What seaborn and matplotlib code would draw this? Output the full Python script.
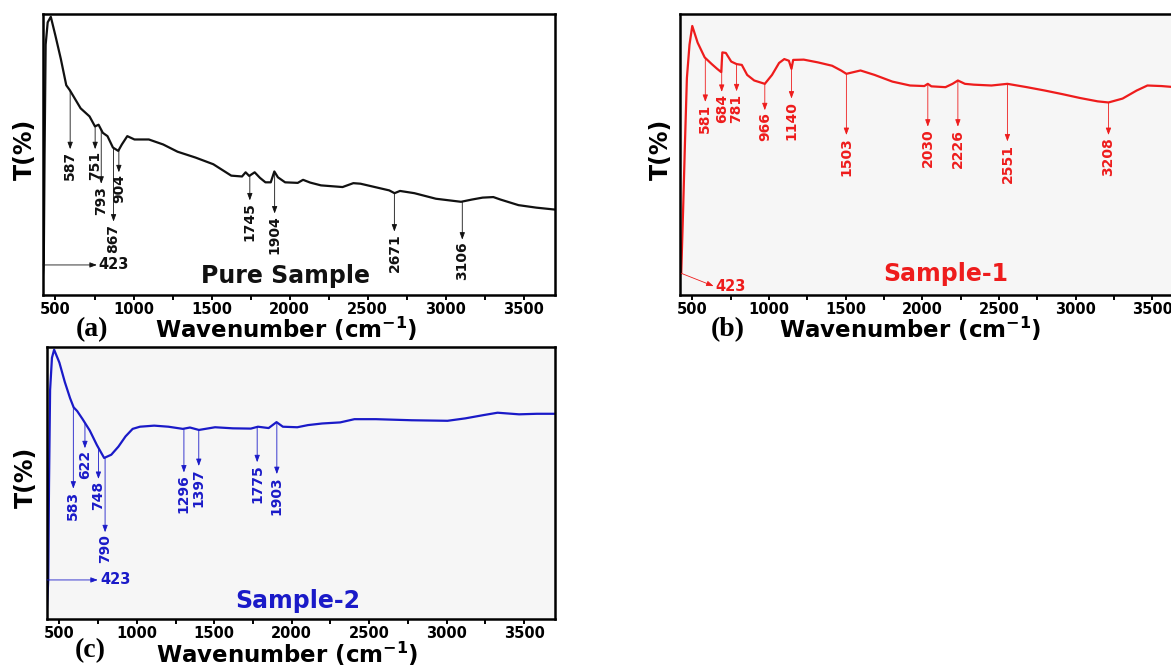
import numpy as np
import pandas as pd
import matplotlib
matplotlib.use("Agg")
import matplotlib.pyplot as plt
import seaborn as sns
from matplotlib.ticker import MultipleLocator

# ---------------- data ----------------
# (a) Pure Sample
wn_a = [415, 425, 430, 437, 450, 470, 500, 534, 569, 592,
        661, 718, 753, 776, 803, 833, 868, 902, 925, 960,
        1006, 1098, 1190, 1282, 1397, 1511, 1626, 1695, 1718, 1741,
        1776, 1810, 1845, 1879, 1902, 1925, 1971, 2052, 2086, 2132,
        2201, 2339, 2408, 2454, 2546, 2638, 2672, 2707, 2799, 2937,
        3098, 3167, 3236, 3305, 3351, 3466, 3580, 3700]
t_a = [3, 12, 50, 90, 98, 100, 93.1, 84.9, 75.4, 73.6,
       67.1, 64.2, 60.6, 61.2, 58.3, 57.1, 53.0, 51.8, 54.1, 57.1,
       55.9, 55.9, 54.1, 51.5, 49.4, 47.0, 42.9, 42.6, 44.1, 42.8,
       44.1, 42.1, 40.5, 40.5, 44.4, 42.3, 40.5, 40.3, 41.4, 40.4,
       39.4, 38.8, 40.2, 40.0, 38.8, 37.6, 36.6, 37.4, 36.6, 34.6,
       33.5, 34.3, 35.0, 35.2, 34.3, 32.3, 31.4, 30.7]
peaks_a = [587, 751, 793, 867, 904, 1745, 1904, 2671, 3106]

# (b) Sample-1
wn_b = [428, 440, 452, 465, 482, 500, 535, 581, 627, 662,
        689, 696, 719, 754, 789, 823, 858, 904, 973, 1020,
        1066, 1100, 1130, 1147, 1158, 1227, 1320, 1412, 1470, 1505,
        1597, 1689, 1805, 1920, 2013, 2036, 2059, 2151, 2197, 2232,
        2278, 2336, 2451, 2555, 2682, 2798, 2913, 3029, 3144, 3214,
        3306, 3398, 3468, 3560, 3648, 3700]
t_b = [7.8, 30, 54, 78, 90, 96.7, 90.7, 85.4, 83.0, 81.3,
       80.1, 87.2, 87.0, 83.9, 83.0, 82.7, 79.1, 77.1, 75.9, 79.1,
       83.4, 84.8, 84.2, 81.3, 84.5, 84.6, 83.6, 82.4, 80.7, 79.5,
       80.7, 79.1, 76.7, 75.3, 75.1, 75.9, 75.0, 74.7, 75.9, 77.1,
       75.9, 75.6, 75.3, 75.9, 74.7, 73.5, 72.2, 70.8, 69.6, 69.2,
       70.6, 73.5, 75.3, 75.1, 74.7, 74.6]
peaks_b = [581, 684, 781, 966, 1140, 1503, 2030, 2226, 2551, 3208]

# (c) Sample-2
wn_c = [418, 428, 433, 440, 452, 466, 500, 535, 569, 592,
        615, 650, 696, 742, 789, 835, 881, 927, 973, 1020,
        1112, 1204, 1297, 1343, 1401, 1505, 1620, 1736, 1782, 1851,
        1902, 1943, 2036, 2105, 2197, 2313, 2405, 2544, 2775, 3006,
        3121, 3237, 3329, 3468, 3583, 3700]
t_c = [2, 14.5, 50, 85, 97, 100, 95.2, 88.0, 82.0, 78.6,
       77.2, 74.2, 70.0, 64.6, 59.8, 61.0, 64.0, 67.8, 70.6, 71.4,
       71.8, 71.4, 70.6, 71.1, 70.2, 71.2, 70.8, 70.7, 71.4, 70.9,
       73.1, 71.4, 71.2, 72.0, 72.6, 73.0, 74.2, 74.2, 73.8, 73.6,
       74.5, 75.7, 76.6, 76.0, 76.2, 76.2]
peaks_c = [583, 622, 748, 790, 1296, 1397, 1775, 1903]

low_peak = 423
tick_values = [500, 1000, 1500, 2000, 2500, 3000, 3500]

# ---------------- layout (annotation placement) ----------------
mark_x_a = [594, 754, 793, 872, 906, 1745, 1904, 2671, 3106]
tip_a = [52.4, 52.4, 40.0, 26.4, 44.1, 34.0, 29.3, 22.8, 19.9]
mark_x_b = [585, 692, 789, 973, 1147, 1505, 2036, 2232, 2555, 3214]
tip_b = [69.4, 73.0, 73.2, 66.4, 70.6, 57.5, 60.5, 60.5, 55.2, 57.5]
mark_x_c = [590, 665, 752, 795, 1304, 1400, 1777, 1904]
tip_c = [48.4, 63.4, 52.0, 32.2, 54.4, 56.8, 58.2, 53.8]

W, H = 1171, 670
sns.set_theme(style="white")
plt.rcParams["font.family"] = ["DejaVu Sans"]
plt.rcParams["font.weight"] = "bold"
plt.rcParams["mathtext.default"] = "bf"

fig = plt.figure(figsize=(W / 100, H / 100), dpi=100, facecolor="white")


def box(l, t, r, b):
    return [l / W, 1 - b / H, (r - l) / W, (b - t) / H]


XLIM = (420, 3700)


def panel(rect, wn, t, color, face, title, title_xy, marks, tips, labels,
          low_start, low_tip, low_text_x, xlab_xy, letter, letter_xy, ylab_x):
    ax = fig.add_axes(rect)
    ax.set_facecolor(face)
    df = pd.DataFrame({"wn": wn, "T": t})
    sns.lineplot(data=df, x="wn", y="T", ax=ax, color=color, lw=1.6,
                 sort=False, estimator=None)
    ax.set_xlim(*XLIM)
    ax.set_ylim(0, 101)
    ax.set_yticks([])
    ax.set_xticks(tick_values)
    ax.set_xticklabels([str(v) for v in tick_values], fontsize=10.5,
                       fontweight="bold")
    ax.xaxis.set_minor_locator(MultipleLocator(250))
    ax.tick_params(axis="x", which="both", direction="out", length=3.5,
                   width=1.4, bottom=True, top=False, pad=1.2, colors="black")
    for s in ax.spines.values():
        s.set_linewidth(1.8)
        s.set_color("black")
        s.set_visible(True)

    # peak markers
    for x, tip, lab in zip(marks, tips, labels):
        ycur = float(np.interp(x, wn, t))
        ax.annotate("", xy=(x, tip), xytext=(x, ycur),
                    arrowprops=dict(arrowstyle="-|>,head_length=0.35,head_width=0.13",
                                    lw=0.6, color=color, shrinkA=0, shrinkB=0))
        ax.annotate(str(lab), xy=(x, tip), xytext=(0, -1.5),
                    textcoords="offset points", rotation=90, ha="center",
                    va="top", fontsize=10, fontweight="bold", color=color)

    # 423 marker
    ax.annotate("", xy=low_tip, xytext=low_start,
                arrowprops=dict(arrowstyle="-|>,head_length=0.35,head_width=0.13",
                                lw=0.6, color=color, shrinkA=0, shrinkB=0))
    ax.text(low_text_x, low_tip[1], str(low_peak), ha="left", va="center",
            fontsize=10.5, fontweight="bold", color=color)

    ax.text(title_xy[0], title_xy[1], title, ha="center", va="center",
            fontsize=17, fontweight="bold", color=color)

    ax.set_xlabel("Wavenumber (cm$^{\\mathbf{-1}}$)", fontsize=16.5,
                  fontweight="bold", color="black")
    ax.xaxis.set_label_coords(*xlab_xy)
    ax.set_ylabel("T(%)", fontsize=17, fontweight="bold", color="black")
    ax.yaxis.set_label_coords(ylab_x, 0.52)
    ax.text(letter_xy[0], letter_xy[1], letter, transform=ax.transAxes,
            ha="center", va="baseline", fontsize=20, fontweight="bold",
            family=["Liberation Serif", "DejaVu Serif"], color="black")
    return ax


panel(box(43, 14, 555, 295), wn_a, t_a, "#111111", "white", "Pure Sample",
      (1976, 6.9), mark_x_a, tip_a, peaks_a,
      (XLIM[0], 10.8), (765, 10.8), 775, (0.475, -0.07), "(a)",
      (0.096, -0.148), -0.012)

panel(box(680, 14, 1183, 295), wn_b, t_b, "#ee1c1c", "#f6f6f6", "Sample-1",
      (2152, 7.7), mark_x_b, tip_b, peaks_b,
      (428, 7.8), (639, 3.2), 650, (0.457, -0.07), "(b)",
      (0.095, -0.148), -0.014)

panel(box(47, 347, 555, 619), wn_c, t_c, "#1a1ac8", "#f6f6f6", "Sample-2",
      (2036, 6.6), mark_x_c, tip_c, peaks_c,
      (XLIM[0], 14.5), (748, 14.5), 765, (0.472, -0.075), "(c)",
      (0.085, -0.14), -0.018)

fig.savefig("out.png", dpi=100, facecolor="white")
